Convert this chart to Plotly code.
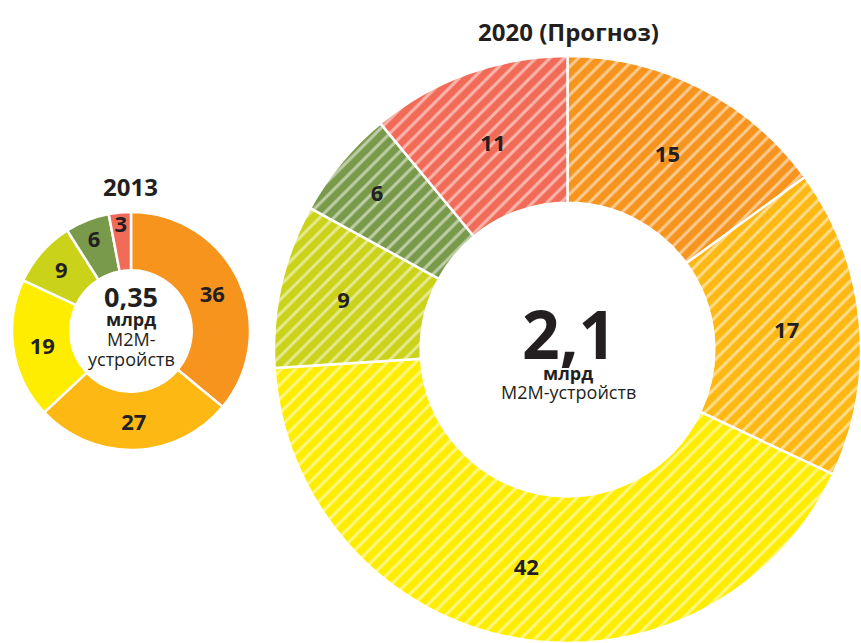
import plotly.graph_objects as go

categories = ["A", "B", "C", "D", "E", "F"]
values_2013 = [36, 27, 19, 9, 6, 3]
values_2020 = [15, 17, 42, 9, 6, 11]
colors = ["#F7941E", "#FDB813", "#FFED00", "#CAD21A", "#7A9A4B", "#F26B58"]
title_2013 = "2013"
title_2020 = "2020 (Прогноз)"
center_2013 = ["0,35", "млрд", "M2M-", "устройств"]
center_2020 = ["2,1", "млрд", "M2M-устройств"]

W, H = 861, 643
FONT = "Open Sans"
DARK = "#231F20"

fig = go.Figure()

# small donut
fig.add_trace(go.Pie(
    labels=categories, values=values_2013, sort=False, direction="clockwise", rotation=0,
    hole=0.51, textinfo="value", textposition="inside", insidetextorientation="horizontal",
    marker=dict(colors=colors, line=dict(color="white", width=2.5)),
    textfont=dict(family=FONT, size=22, color=DARK, weight="bold"),
    domain=dict(x=[12 / W, 250 / W], y=[1 - 450 / H, 1 - 212 / H]),
    showlegend=False, hoverinfo="label+value",
))

# big donut
fig.add_trace(go.Pie(
    labels=categories, values=values_2020, sort=False, direction="clockwise", rotation=0,
    hole=0.5, textinfo="value", textposition="inside", insidetextorientation="horizontal",
    marker=dict(colors=colors, line=dict(color="white", width=2.5),
                pattern=dict(shape="/", fgcolor="white", fillmode="overlay", size=10, solidity=0.3)),
    textfont=dict(family=FONT, size=22, color=DARK, weight="bold"),
    domain=dict(x=[274 / W, 861 / W], y=[0, 1 - 56 / H]),
    showlegend=False, hoverinfo="label+value",
))

def px(x, y):
    return x / W, 1 - y / H

ann = []
def add(text, x, y, size, bold=True):
    ax, ay = px(x, y)
    ann.append(dict(text=text, x=ax, y=ay, xref="paper", yref="paper", showarrow=False,
                    xanchor="center", yanchor="middle",
                    font=dict(family=FONT, size=size, color=DARK, weight="bold" if bold else "normal")))

add(title_2013, 130, 186, 24)
add(title_2020, 568, 32, 24)

add(center_2013[0], 131, 297, 27)
add(center_2013[1], 131, 319, 18)
add(center_2013[2], 131, 339, 18, bold=False)
add(center_2013[3], 131, 359, 18, bold=False)

add(center_2020[0], 569, 333, 66)
add(center_2020[1], 568, 373, 18)
add(center_2020[2], 568, 392, 18, bold=False)

fig.update_layout(
    width=W, height=H, margin=dict(l=0, r=0, t=0, b=0),
    paper_bgcolor="white", plot_bgcolor="white",
    annotations=ann,
    uniformtext=dict(minsize=22, mode="show"),
)

fig.write_html("out.html")
